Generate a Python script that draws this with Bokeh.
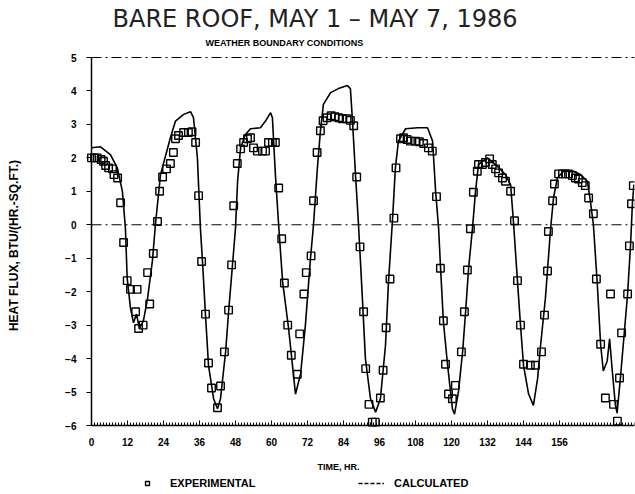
import math
from bokeh.plotting import figure
from bokeh.models import (Range1d, Legend, LegendItem, FixedTicker, LinearAxis, Label)
from bokeh.embed import file_html
from bokeh.resources import INLINE

# Calculated heat flux (hours, BTU/(hr-sq.ft.))
calc_t = [0, 3, 6.3, 8.6, 10.3, 11.3, 11.9, 13, 14, 15, 16, 17.3, 18.7, 20.3, 21.3, 23,
          26.3, 28, 30.7, 33, 34, 35.3, 36.3, 37, 38, 39, 40.7, 42, 43, 44.7, 45.7, 47,
          48, 48.7, 49.7, 51.3, 53, 56.3, 58, 59.7, 60.3, 61.3, 62.3, 63.7, 65.7, 68,
          69.7, 71.3, 73, 74, 75.3, 76.3, 77.3, 79.7, 82.3, 85.3, 86.3, 87, 88, 89,
          90.3, 91.3, 93, 94.7, 96.3, 98, 99, 100.3, 101.3, 102.3, 104.7, 108.7, 112,
          113.7, 114.7, 115.7, 116.3, 117.3, 118.7, 120.3, 121, 122.3, 123.7, 124.7,
          125.7, 127, 128, 129, 132, 134.7, 138, 139.7, 140.7, 142, 143, 144, 145.7,
          147.3, 148.7, 149.7, 151.3, 153, 154, 155.3, 157.3, 160.7, 163, 165.3, 166.3,
          167.3, 168.6, 169.7, 170.6, 171.9, 172.7, 173.6, 174.6, 175.2, 176.3, 178.7,
          179.7, 180.3, 180.8]
calc_y = [2.3, 2.33, 2.1, 1.7, 1.0, -0.1, -1.6, -2.5, -2.93, -2.67, -3.1, -2.87, -2.2,
          -1.08, 0.0, 1.5, 2.6, 3.1, 3.3, 3.38, 3.2, 2.0, -0.1, -1.1, -2.7, -4.2, -5.2,
          -5.5, -5.2, -3.8, -2.6, -1.2, -0.1, 1.3, 2.3, 2.7, 2.87, 2.9, 3.1, 3.35, 3.2,
          1.5, 0.1, -1.7, -3.1, -5.06, -4.46, -3.0, -1.0, 0.0, 1.7, 2.8, 3.6, 3.95, 4.07,
          4.16, 4.07, 3.1, 1.5, 0.0, -2.2, -4.0, -5.2, -5.6, -5.2, -3.6, -1.7, 0.1, 1.7,
          2.5, 2.87, 2.9, 2.9, 2.5, 1.0, -0.1, -1.2, -2.9, -4.2, -5.5, -5.66, -5.0, -3.8,
          -2.6, -1.3, -0.1, 1.0, 1.8, 2.0, 1.8, 1.5, 1.2, 0.03, -1.7, -3.0, -4.2, -5.06,
          -5.4, -4.6, -3.6, -2.2, -0.15, 0.8, 1.4, 1.6, 1.6, 1.5, 1.3, 0.7, 0.0, -1.77,
          -3.57, -4.37, -4.07, -3.41, -4.37, -5.37, -5.63, -4.58, -2.07, -0.57, 0.63, 1.2]

# Experimental heat flux
exp_t = [0, 1, 1.9, 3.2, 4, 4.7, 5.7, 7, 7.5, 8.7, 9.7, 10.7, 11.9, 13, 14.7, 15.2, 15.7,
         17.2, 18.7, 19.4, 20.6, 22, 22.7, 23.7, 25, 26.3, 27.3, 28, 29, 30.7, 32.3, 33.5,
         34.7, 35.7, 36.7, 38, 39, 40, 42, 43, 44.3, 45.7, 46.7, 47.4, 48.6, 49.7, 50.7,
         52, 53, 54, 55.3, 57, 58, 59, 60.3, 61.3, 62.4, 63.4, 64.3, 65.4, 66.6, 68.6,
         69.4, 70.8, 71.6, 73.2, 74, 75.2, 76.3, 77.2, 78.5, 79.9, 81.2, 82.4, 83.6,
         85.2, 86.3, 87.4, 88.4, 89.5, 90.7, 91.4, 92.5, 93.6, 94.6, 96.3, 97.2, 98.2,
         99.5, 100.8, 101.5, 103, 104, 105.2, 106.3, 108, 109.3, 110.7, 112.3, 113.6,
         115, 116.3, 117.3, 118, 119, 120.3, 121.3, 123.3, 124.3, 125.3, 126.3, 127.3,
         128.6, 129, 130.3, 131.3, 132.7, 133.6, 134.7, 135.7, 137, 138, 139.7, 141,
         142, 143, 144, 146.3, 148, 150, 151, 152, 152.3, 153.7, 154.3, 155.7, 157, 158,
         159, 160.3, 161.3, 162.3, 163.6, 164.6, 165.7, 167.3, 168.3, 169.7, 171.3, 173,
         174, 175.3, 176, 176.7, 178.7, 179.3, 180, 180.6]
exp_y = [2.0, 2.0, 2.0, 1.95, 1.9, 1.77, 1.7, 1.67, 1.5, 1.4, 0.66, -0.53, -1.67, -1.93,
         -2.6, -1.93, -3.1, -3.0, -1.43, -2.37, -0.86, 0.1, 1.0, 1.43, 1.67, 1.83, 2.16,
         2.57, 2.67, 2.76, 2.76, 2.78, 2.46, 0.87, -1.1, -2.67, -4.13, -4.88, -5.47,
         -4.82, -3.8, -2.55, -1.2, 0.57, 1.83, 2.27, 2.46, 2.57, 2.6, 2.3, 2.2, 2.2, 2.2,
         2.46, 2.46, 2.46, 1.1, -0.42, -1.74, -3.0, -3.9, -4.47, -3.26, -2.07, -1.43,
         -0.93, 0.72, 2.16, 2.81, 3.11, 3.2, 3.26, 3.23, 3.2, 3.17, 3.17, 3.12, 2.96,
         1.43, -0.66, -2.6, -4.3, -5.37, -5.9, -5.9, -5.18, -4.35, -3.08, -1.62, 0.2,
         1.7, 2.57, 2.6, 2.55, 2.5, 2.5, 2.48, 2.43, 2.3, 2.2, 0.84, -1.3, -2.87, -4.17,
         -5.06, -5.2, -4.8, -3.8, -2.6, -1.35, -0.12, 0.97, 1.6, 1.8, 1.8, 1.86, 1.97,
         1.8, 1.67, 1.55, 1.4, 1.3, 1.0, 0.12, -1.67, -3.0, -4.17, -4.2, -4.2, -3.8,
         -2.7, -1.38, -0.2, 0.72, 1.22, 1.52, 1.52, 1.52, 1.52, 1.47, 1.4, 1.37, 1.26,
         1.17, 0.8, 0.33, -1.62, -3.57, -5.18, -2.07, -5.37, -5.87, -4.58, -3.23, -2.07,
         -0.63, 0.63, 1.17]

x_ticks = [0, 12, 24, 36, 48, 60, 72, 84, 96, 108, 120, 132, 144, 156]
y_ticks = [-6, -5, -4, -3, -2, -1, 0, 1, 2, 3, 4, 5]
t_min, t_max = 0, 181
y_min, y_max = -6, 5
ref_levels = [0, 5]

FONT = "Liberation Sans"
W, H = 635, 494
# plot area in page pixels: left 91, right 634, top 57 (y=5), bottom 425 (y=-6)
AX_L, AX_R, AX_T, AX_B = 91, 634, 57, 425
px_x = (AX_R - AX_L) / (t_max - t_min)
px_y = (AX_B - AX_T) / (y_max - y_min)
x_lo = t_min - AX_L / px_x
x_hi = t_max + (W - 1 - AX_R) / px_x
y_hi = y_max + AX_T / px_y
y_lo = y_min - (H - AX_B) / px_y

p = figure(width=W, height=H, output_backend="svg", toolbar_location=None,
           x_range=Range1d(x_lo, x_hi), y_range=Range1d(y_lo, y_hi),
           x_axis_location=None, y_axis_location=None, title_location=None,
           min_border_left=0, min_border_right=1, min_border_top=0, min_border_bottom=0)
p.grid.visible = False
p.outline_line_color = None
p.background_fill_color = "white"
p.border_fill_color = "white"


def sy(page_y):
    return H - page_y


# titles
p.add_layout(Label(text="BARE ROOF, MAY 1 \u2013 MAY 7, 1986", x=112, y=sy(18),
                   x_units="screen", y_units="screen", text_align="left",
                   text_baseline="middle", text_font="DejaVu Sans", text_font_size="24px",
                   text_color="#222222"))
p.add_layout(Label(text="WEATHER BOUNDARY CONDITIONS", x=205, y=sy(42),
                   x_units="screen", y_units="screen", text_align="left",
                   text_baseline="middle", text_font=FONT, text_font_size="9px",
                   text_font_style="bold", text_color="black"))
p.add_layout(Label(text="HEAT FLUX, BTU/(HR.-SQ.FT.)", x=13, y=sy(245),
                   x_units="screen", y_units="screen", angle=math.pi / 2,
                   text_align="center", text_baseline="middle", text_font=FONT,
                   text_font_size="12px", text_font_style="bold", text_color="black"))
p.add_layout(Label(text="TIME, HR.", x=317, y=sy(466), x_units="screen", y_units="screen",
                   text_align="left", text_baseline="middle", text_font=FONT,
                   text_font_size="9px", text_font_style="bold", text_color="black"))

# y axis at t = 0
ya = LinearAxis(fixed_location=t_min, bounds=(y_min, y_max))
ya.ticker = FixedTicker(ticks=y_ticks)
ya.major_tick_out = 5
ya.major_tick_in = 0
ya.minor_tick_out = 0
ya.minor_tick_in = 0
ya.axis_line_width = 1.5
ya.major_label_text_font = FONT
ya.major_label_text_font_style = "bold"
ya.major_label_text_font_size = "10px"
ya.major_label_text_color = "black"
ya.major_label_standoff = 10
p.add_layout(ya, "left")

# x axis at y = -6
xa = LinearAxis(fixed_location=y_min, bounds=(t_min, t_max))
xa.ticker = FixedTicker(ticks=x_ticks, minor_ticks=list(range(t_min, t_max + 1)))
xa.major_tick_in = 5
xa.major_tick_out = 0
xa.minor_tick_in = 3
xa.minor_tick_out = 0
xa.axis_line_width = 1.5
xa.major_label_text_font = FONT
xa.major_label_text_font_style = "bold"
xa.major_label_text_font_size = "10px"
xa.major_label_text_color = "black"
xa.major_label_standoff = 12
p.add_layout(xa, "below")

# reference lines (zero line and top boundary)
p.segment(x0=[t_min] * len(ref_levels), y0=ref_levels, x1=[t_max] * len(ref_levels),
          y1=ref_levels, line_color="black", line_width=1, line_dash="10 4 2 4")

calc = p.line(calc_t, calc_y, line_color="black", line_width=1.6)
exp = p.scatter(exp_t, exp_y, marker="square", size=7.5, fill_color=None,
                line_color="black", line_width=1.4)
calc_leg = p.line(calc_t, calc_y, line_color="black", line_width=1.5, line_dash="4 2",
                  visible=False)

legend = Legend(items=[LegendItem(label="EXPERIMENTAL", renderers=[exp]),
                       LegendItem(label="CALCULATED", renderers=[calc_leg])],
                orientation="horizontal", location=(134, 5), spacing=0,
                label_width=188, glyph_width=26, glyph_height=10, label_standoff=10,
                padding=0, margin=0, border_line_color=None, background_fill_alpha=0,
                label_text_font=FONT, label_text_font_size="11px",
                label_text_font_style="bold", label_text_color="black",
                click_policy="none")
p.add_layout(legend, "center")

open("out.html", "w").write(file_html(p, INLINE))
